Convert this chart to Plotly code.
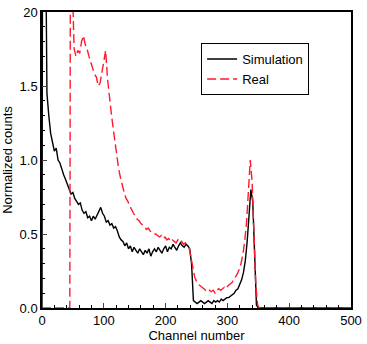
import plotly.graph_objects as go

sim_ch = [0, 1, 5, 8, 11, 14, 17, 20, 23, 26, 29, 32, 35, 38, 41, 44, 47, 50, 53, 56, 59, 62, 65, 68, 71, 74, 77, 80, 83, 86, 89, 92, 95, 98, 101, 104, 107, 110, 113, 116, 119, 122, 125, 128, 131, 134, 137, 140, 143, 146, 149, 152, 155, 158, 161, 164, 167, 170, 173, 176, 179, 182, 185, 188, 191, 194, 197, 200, 203, 206, 209, 212, 215, 218, 221, 224, 227, 230, 233, 236, 239, 242, 245, 248, 251, 254, 257, 260, 263, 266, 269, 272, 275, 278, 281, 284, 287, 290, 293, 296, 299, 302, 305, 308, 311, 314, 317, 320, 323, 326, 329, 332, 335, 338, 341, 344, 347, 350, 500]
sim_val = [0.0, 3.0, 3.0, 1.45, 1.30, 1.18, 1.12, 1.06, 1.08, 1.00, 0.98, 0.93, 0.90, 0.87, 0.84, 0.80, 0.77, 0.78, 0.74, 0.72, 0.70, 0.71, 0.66, 0.64, 0.65, 0.61, 0.62, 0.59, 0.62, 0.60, 0.63, 0.66, 0.68, 0.64, 0.62, 0.58, 0.59, 0.56, 0.57, 0.54, 0.55, 0.52, 0.48, 0.46, 0.45, 0.42, 0.44, 0.40, 0.42, 0.38, 0.41, 0.39, 0.37, 0.40, 0.38, 0.36, 0.39, 0.37, 0.40, 0.35, 0.38, 0.40, 0.38, 0.41, 0.39, 0.37, 0.40, 0.42, 0.38, 0.41, 0.40, 0.43, 0.41, 0.39, 0.42, 0.44, 0.42, 0.41, 0.43, 0.42, 0.40, 0.30, 0.05, 0.04, 0.03, 0.04, 0.05, 0.04, 0.03, 0.04, 0.05, 0.04, 0.03, 0.05, 0.04, 0.05, 0.04, 0.06, 0.05, 0.06, 0.07, 0.07, 0.08, 0.09, 0.10, 0.12, 0.13, 0.16, 0.19, 0.24, 0.32, 0.45, 0.65, 0.80, 0.72, 0.30, 0.02, 0.00, 0.00]

real_ch = [0, 45, 46, 49, 52, 55, 58, 61, 64, 67, 70, 73, 76, 79, 82, 85, 88, 91, 94, 97, 100, 103, 106, 109, 112, 115, 118, 121, 124, 127, 130, 133, 136, 139, 142, 145, 148, 151, 154, 157, 160, 163, 166, 169, 172, 175, 178, 181, 184, 187, 190, 193, 196, 199, 202, 205, 208, 211, 214, 217, 220, 223, 226, 229, 232, 235, 238, 241, 244, 247, 250, 253, 256, 259, 262, 265, 268, 271, 274, 277, 280, 283, 286, 289, 292, 295, 298, 301, 304, 307, 310, 313, 316, 319, 322, 325, 328, 331, 334, 337, 340, 343, 346, 349, 352, 500]
real_val = [0.0, 0.0, 2.5, 2.2, 1.75, 1.70, 1.74, 1.72, 1.80, 1.84, 1.78, 1.75, 1.70, 1.66, 1.62, 1.58, 1.56, 1.50, 1.52, 1.60, 1.68, 1.74, 1.55, 1.42, 1.32, 1.22, 1.12, 1.02, 0.94, 0.88, 0.82, 0.78, 0.74, 0.72, 0.69, 0.66, 0.64, 0.62, 0.60, 0.59, 0.57, 0.56, 0.55, 0.53, 0.54, 0.52, 0.51, 0.50, 0.50, 0.49, 0.48, 0.49, 0.47, 0.48, 0.46, 0.47, 0.45, 0.46, 0.45, 0.44, 0.46, 0.44, 0.45, 0.43, 0.44, 0.42, 0.41, 0.35, 0.27, 0.21, 0.18, 0.16, 0.15, 0.14, 0.13, 0.12, 0.13, 0.12, 0.11, 0.12, 0.10, 0.12, 0.13, 0.12, 0.13, 0.14, 0.13, 0.15, 0.16, 0.17, 0.19, 0.21, 0.23, 0.26, 0.30, 0.36, 0.45, 0.58, 0.78, 1.00, 0.85, 0.55, 0.15, 0.02, 0.00, 0.00]

x_ticks = [0, 100, 200, 300, 400, 500]
y_ticks = [0.0, 0.5, 1.0, 1.5, 2.0]
y_tick_text = ["0.0", "0.5", "1.0", "1.5", "20"]

font = "Liberation Sans, Arial, sans-serif"

fig = go.Figure()
fig.add_trace(go.Scatter(x=sim_ch, y=sim_val, mode="lines", name="Simulation",
                         line=dict(color="black", width=1.4)))
fig.add_trace(go.Scatter(x=real_ch, y=real_val, mode="lines", name="Real",
                         line=dict(color="#ff1a2e", width=1.4, dash="9px,4px")))

fig.update_layout(
    width=367, height=344,
    margin=dict(l=42, r=9, t=5, b=33),
    paper_bgcolor="white", plot_bgcolor="white",
    font=dict(family=font, size=13, color="black"),
    showlegend=True,
    legend=dict(x=0.515, y=0.895, xanchor="left", yanchor="top",
                bordercolor="black", borderwidth=1, bgcolor="white",
                font=dict(size=13), tracegroupgap=0),
    xaxis=dict(range=[0, 500], tickvals=x_ticks, ticks="inside", ticklen=5,
               ticklabeloverflow="allow",
               showline=True, linecolor="black", linewidth=1.5, mirror=True,
               showgrid=False, zeroline=False,
               minor=dict(dtick=20, ticks="inside", ticklen=3, tickcolor="black"),
               title=dict(text="Channel number", standoff=2, font=dict(size=13))),
    yaxis=dict(range=[0, 2.0], tickvals=y_ticks, ticktext=y_tick_text,
               ticks="inside", ticklen=5, ticklabeloverflow="allow",
               showline=True, linecolor="black", linewidth=1.5, mirror=True,
               showgrid=False, zeroline=False,
               minor=dict(dtick=0.1, ticks="inside", ticklen=3, tickcolor="black"),
               title=dict(text="Normalized counts", standoff=4, font=dict(size=13))),
)

fig.write_html("out.html")
